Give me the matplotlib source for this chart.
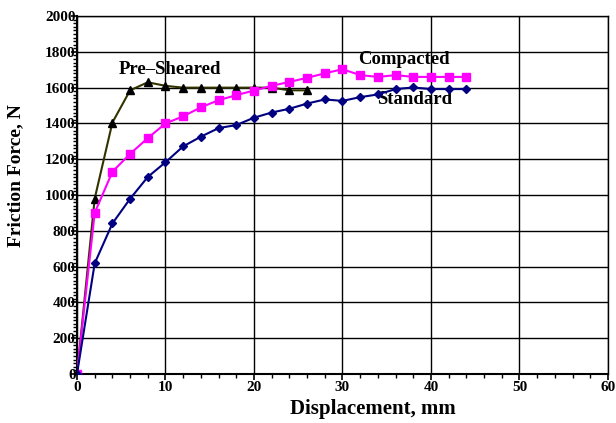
import numpy as np
import matplotlib.pyplot as plt
from matplotlib.ticker import MultipleLocator

# Displacement (mm) and friction force (N)
x_pre = [0, 2, 4, 6, 8, 10, 12, 14, 16, 18, 20, 22, 24, 26]
y_pre = [0, 980, 1405, 1585, 1630, 1610, 1600, 1600, 1600, 1600, 1600, 1600, 1585, 1585]

x_comp = [0, 2, 4, 6, 8, 10, 12, 14, 16, 18, 20, 22, 24, 26, 28, 30, 32, 34, 36, 38, 40, 42, 44]
y_comp = [0, 900, 1130, 1230, 1318, 1400, 1440, 1490, 1530, 1558, 1584, 1610, 1632, 1655,
          1680, 1703, 1670, 1660, 1670, 1660, 1660, 1660, 1660]

x_std = [0, 2, 4, 6, 8, 10, 12, 14, 16, 18, 20, 22, 24, 26, 28, 30, 32, 34, 36, 38, 40, 42, 44]
y_std = [0, 618, 841, 979, 1101, 1183, 1272, 1326, 1374, 1391, 1432, 1461, 1482, 1511,
         1534, 1526, 1547, 1562, 1592, 1601, 1592, 1592, 1592]

plt.rcParams['font.family'] = ['Liberation Serif', 'DejaVu Serif']
plt.rcParams['font.weight'] = 'bold'

fig = plt.figure(figsize=(6.16, 4.23), dpi=100)
ax = fig.add_axes([0.125, 0.116, 0.862, 0.846])

ax.plot(x_pre, y_pre, color='#333300', lw=1.5, marker='^', ms=5.5,
        mfc='black', mec='black', zorder=3)
ax.plot(x_comp, y_comp, color='#FF00FF', lw=1.5, marker='s', ms=5.5,
        mfc='#FF00FF', mec='#FF00FF', zorder=3)
ax.plot(x_std, y_std, color='#000080', lw=1.5, marker='D', ms=4,
        mfc='#000080', mec='#000080', zorder=4)

ax.text(10.5, 1700, 'Pre\u2013Sheared', ha='center', va='center', fontsize=13.5, fontweight='bold')
ax.text(36.9, 1755, 'Compacted', ha='center', va='center', fontsize=13.5, fontweight='bold')
ax.text(38.1, 1532, 'Standard', ha='center', va='center', fontsize=13.5, fontweight='bold')

ax.set_xlim(0, 60)
ax.set_ylim(0, 2000)
ax.xaxis.set_major_locator(MultipleLocator(10))
ax.xaxis.set_minor_locator(MultipleLocator(2))
ax.yaxis.set_major_locator(MultipleLocator(200))
ax.yaxis.set_minor_locator(MultipleLocator(20))
ax.grid(True, which='major', color='black', lw=1)
ax.set_axisbelow(True)

for s in ax.spines.values():
    s.set_linewidth(1)
    s.set_color('black')
ax.spines['bottom'].set_linewidth(1.5)
ax.spines['left'].set_linewidth(1.5)

ax.tick_params(axis='both', which='major', length=4, width=1.2, labelsize=11, pad=1)
ax.tick_params(axis='both', which='minor', length=3, width=1)
ax.tick_params(axis='y', pad=-3)
for lab in ax.get_xticklabels() + ax.get_yticklabels():
    lab.set_fontweight('bold')

ax.set_xlabel('Displacement, mm', fontsize=15, fontweight='bold')
ax.set_ylabel('Friction Force, N', fontsize=14, fontweight='bold')
ax.xaxis.set_label_coords(0.557, -0.07)
ax.yaxis.set_label_coords(-0.100, 0.554)

fig.savefig('out.png', dpi=100)
